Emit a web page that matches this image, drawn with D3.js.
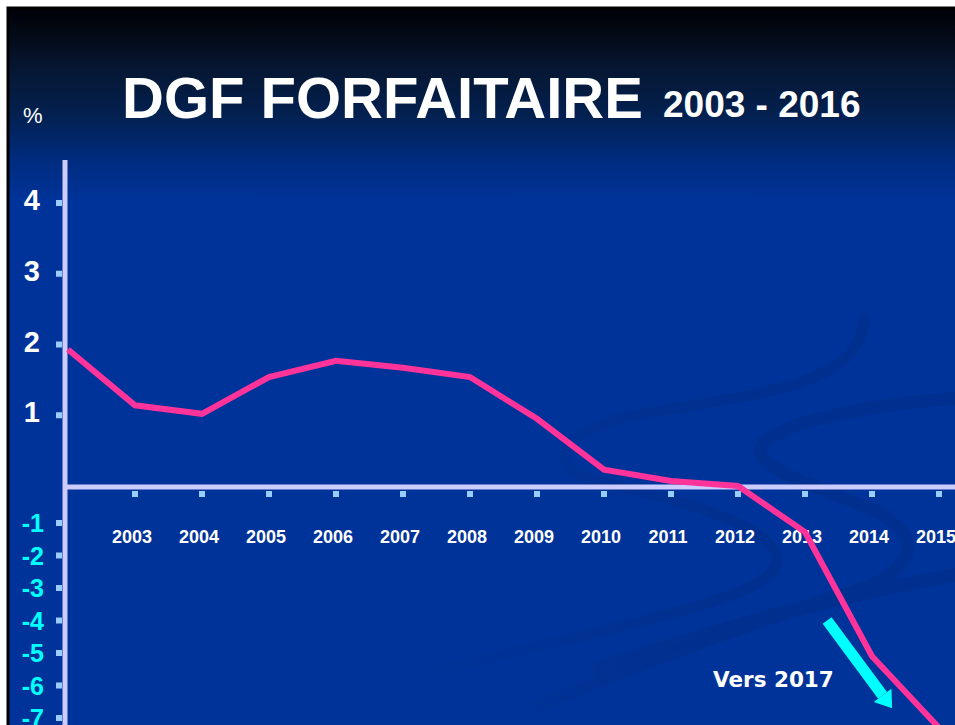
<!DOCTYPE html>
<html>
<head>
<meta charset="utf-8">
<script src="https://cdn.jsdelivr.net/npm/d3@7"></script>
<style>
  body { margin: 0; background: #fff; }
  svg { display: block; }
</style>
</head>
<body>
<div class="canvas"></div>
<script>
// data
const years = [2002, 2003, 2004, 2005, 2006, 2007, 2008, 2009, 2010, 2011, 2012, 2013, 2014, 2015];
const values = [1.93, 1.14, 1.02, 1.54, 1.77, 1.67, 1.54, 0.95, 0.23, 0.07, 0.0, -1.28, -5.1, -7.3];
const xTickYears = [2003, 2004, 2005, 2006, 2007, 2008, 2009, 2010, 2011, 2012, 2013, 2014, 2015];
const posTicks = [1, 2, 3, 4];
const negTicks = [-1, -2, -3, -4, -5, -6, -7];

const dims = { width: 955, height: 725 };
const sans = '"Liberation Sans", Arial, sans-serif';

const svg = d3.select('.canvas')
    .append('svg')
    .attr('width', dims.width)
    .attr('height', dims.height)
    .style('font-family', sans)
    .style('font-weight', 'bold');

// slide background
const defs = svg.append('defs');
const grad = defs.append('linearGradient')
    .attr('id', 'bg')
    .attr('gradientUnits', 'userSpaceOnUse')
    .attr('x1', 0).attr('y1', 8).attr('x2', 0).attr('y2', 200);
[[0, '#000008'], [0.08, '#02060f'], [0.3, '#061630'], [0.55, '#03204f'], [0.8, '#002c80'], [1, '#003399']]
    .forEach(s => grad.append('stop').attr('offset', s[0]).attr('stop-color', s[1]));

// swooshes fade out towards the left
const fade = defs.append('linearGradient')
    .attr('id', 'fade')
    .attr('gradientUnits', 'userSpaceOnUse')
    .attr('x1', 400).attr('y1', 0).attr('x2', 720).attr('y2', 0);
fade.append('stop').attr('offset', 0).attr('stop-color', '#00308f').attr('stop-opacity', 0);
fade.append('stop').attr('offset', 1).attr('stop-color', '#00308f').attr('stop-opacity', 1);

defs.append('clipPath').attr('id', 'slide')
  .append('rect').attr('x', 9).attr('y', 9).attr('width', 960).attr('height', 730);

svg.append('rect')
    .attr('x', 8).attr('y', 8)
    .attr('width', 970).attr('height', 740)
    .attr('fill', 'url(#bg)')
    .attr('stroke', '#000')
    .attr('stroke-width', 3);

const swoosh = svg.append('g')
    .attr('clip-path', 'url(#slide)')
    .attr('fill', 'none')
    .attr('stroke', 'url(#fade)')
    .attr('stroke-linecap', 'round');

swoosh.append('path')
    .attr('d', 'M864,318 C862,385 760,394 640,414 C548,432 542,472 610,485 C710,505 800,540 772,572 C742,604 620,625 440,670')
    .attr('stroke-width', 11);
swoosh.append('path')
    .attr('d', 'M960,398 C880,404 790,418 762,444 C748,470 830,490 882,514 C930,545 905,575 852,592 C760,620 650,660 540,705')
    .attr('stroke-width', 13);
swoosh.append('path')
    .attr('d', 'M960,574 C860,592 760,615 600,668')
    .attr('stroke-width', 14);

// scales
const x = d3.scaleLinear()
    .domain([2002, 2015])
    .range([68, 939]);

// the slide uses a squeezed scale below zero
const y = d3.scaleLinear()
    .domain([-7, -1, 0, 4])
    .range([718, 523, 486, 203]);

// title
svg.append('text')
    .attr('x', 122).attr('y', 118)
    .attr('fill', '#fff')
    .style('font-size', '58px')
    .text('DGF FORFAITAIRE');
svg.append('text')
    .attr('x', 663).attr('y', 117)
    .attr('fill', '#fff')
    .style('font-size', '37px')
    .text('2003 - 2016');
svg.append('text')
    .attr('x', 23).attr('y', 123)
    .attr('fill', '#fff')
    .style('font-size', '22px')
    .style('font-weight', 'normal')
    .text('%');

// axis lines
const axisColor = '#ccccff';
svg.append('line')
    .attr('x1', x(2002) - 3).attr('x2', x(2002) - 3)
    .attr('y1', 160).attr('y2', dims.height)
    .attr('stroke', axisColor).attr('stroke-width', 5);
svg.append('line')
    .attr('x1', x(2002) - 5).attr('x2', dims.width)
    .attr('y1', y(0) + 1).attr('y2', y(0) + 1)
    .attr('stroke', axisColor).attr('stroke-width', 5);

// y ticks
const tickColor = '#99ccff';
svg.append('g').selectAll('rect')
    .data(posTicks.concat(negTicks))
    .enter().append('rect')
      .attr('x', 56).attr('y', d => y(d) - 3)
      .attr('width', 6).attr('height', 6)
      .attr('fill', tickColor);

svg.append('g').selectAll('text')
    .data(posTicks)
    .enter().append('text')
      .attr('x', 40).attr('y', d => y(d) + 7)
      .attr('text-anchor', 'end')
      .attr('fill', '#fff')
      .style('font-size', '29px')
      .text(d => d);

svg.append('g').selectAll('text')
    .data(negTicks)
    .enter().append('text')
      .attr('x', 44).attr('y', d => y(d) + 9)
      .attr('text-anchor', 'end')
      .attr('fill', '#00ffff')
      .style('font-size', '25px')
      .text(d => d);

// x ticks
svg.append('g').selectAll('rect')
    .data(xTickYears)
    .enter().append('rect')
      .attr('x', d => x(d) - 3).attr('y', y(0) + 5)
      .attr('width', 6).attr('height', 6)
      .attr('fill', tickColor);

svg.append('g').selectAll('text')
    .data(xTickYears)
    .enter().append('text')
      .attr('x', d => x(d) - 3).attr('y', 543)
      .attr('text-anchor', 'middle')
      .attr('fill', '#fff')
      .style('font-size', '18px')
      .text(d => d);

// the line
const line = d3.line()
    .x((d, i) => x(years[i]))
    .y(d => y(d));

svg.append('path')
    .datum(values)
    .attr('clip-path', 'url(#slide)')
    .attr('d', line)
    .attr('fill', 'none')
    .attr('stroke', '#ff3399')
    .attr('stroke-width', 6)
    .attr('stroke-linejoin', 'miter');

// "Vers 2017" annotation with arrow
const a0 = [x(2013.33), y(-4.0)];
const a1 = [x(2014.3), y(-6.7)];
const ang = Math.atan2(a1[1] - a0[1], a1[0] - a0[0]);
const headLen = 16, headW = 11;
const base = [a1[0] - headLen * Math.cos(ang), a1[1] - headLen * Math.sin(ang)];

svg.append('line')
    .attr('x1', a0[0]).attr('y1', a0[1])
    .attr('x2', base[0]).attr('y2', base[1])
    .attr('stroke', '#00ffff')
    .attr('stroke-width', 11);
svg.append('path')
    .attr('d', d3.line()([
        [base[0] + headW * Math.sin(ang), base[1] - headW * Math.cos(ang)],
        a1,
        [base[0] - headW * Math.sin(ang), base[1] + headW * Math.cos(ang)]
    ]) + 'Z')
    .attr('fill', '#00ffff');

svg.append('text')
    .attr('x', 713).attr('y', 687)
    .attr('fill', '#fff')
    .style('font-family', '"DejaVu Sans", Verdana, sans-serif')
    .style('font-size', '21.5px')
    .text('Vers 2017');
</script>
</body>
</html>
